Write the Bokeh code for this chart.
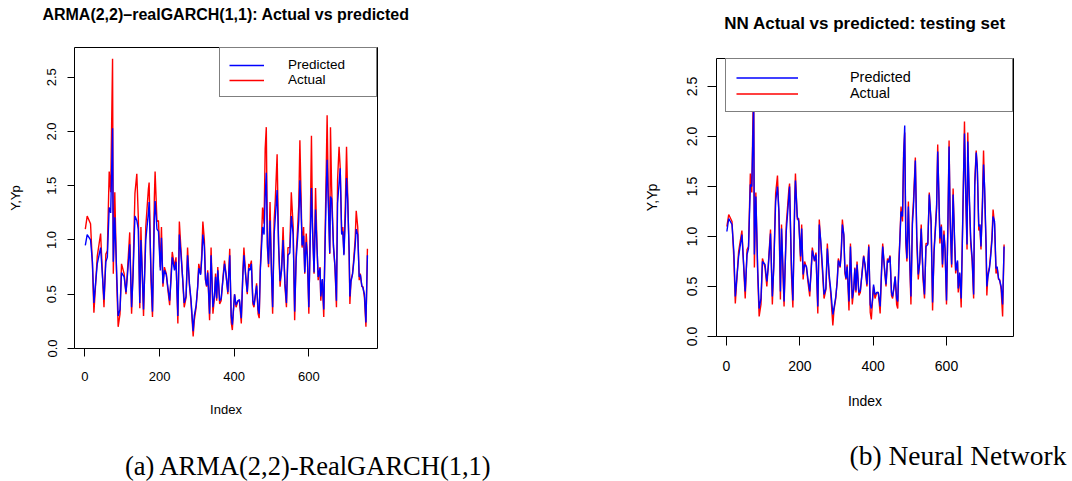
from bokeh.plotting import figure
from bokeh.models import Label, Legend, LegendItem, FixedTicker, PrintfTickFormatter, Range1d
from bokeh.layouts import row, column
from bokeh.embed import file_html
from bokeh.resources import INLINE

# ---------------- data ----------------
index = [1, 6, 15, 20, 24, 33, 42, 51, 56, 60,
         65, 69, 74, 76, 80, 85, 89, 94, 98, 105,
         110, 114, 120, 125, 129, 134, 139, 143, 147, 150,
         154, 157, 163, 170, 172, 177, 181, 186, 188, 193,
         197, 202, 205, 209, 213, 218, 222, 227, 231, 234,
         240, 244, 249, 253, 257, 262, 266, 271, 275, 280,
         284, 290, 293, 298, 302, 305, 310, 313, 316, 320,
         323, 326, 329, 334, 338, 343, 347, 350, 353, 356,
         361, 365, 370, 374, 378, 383, 388, 392, 395, 398,
         401, 405, 410, 414, 419, 423, 426, 431, 435, 439,
         442, 446, 450, 453, 457, 460, 464, 467, 470, 473,
         476, 480, 483, 486, 489, 492, 496, 500, 503, 507,
         510, 515, 519, 523, 527, 531, 536, 540, 544, 549,
         553, 558, 562, 566, 570, 573, 576, 579, 582, 586,
         589, 593, 596, 600, 604, 607, 610, 614, 618, 622,
         625, 630, 632, 636, 640, 643, 647, 649, 652, 656,
         658, 661, 666, 670, 674, 677, 681, 684, 688, 691,
         694, 698, 701, 704, 708, 710, 713, 717, 720, 724,
         727, 731, 735, 738, 742, 745, 749, 753, 757]

actual = [1.10, 1.22, 1.15, 0.78, 0.33, 0.85, 1.06, 0.38, 0.87, 0.90,
          1.63, 1.44, 2.67, 0.69, 1.44, 0.63, 0.20, 0.32, 0.78, 0.69,
          0.50, 0.72, 1.07, 0.32, 0.72, 1.43, 1.61, 1.21, 0.37, 1.12,
          0.63, 0.30, 1.12, 1.47, 1.53, 0.63, 0.29, 1.39, 1.63, 1.17,
          1.18, 0.75, 1.12, 0.57, 0.75, 0.69, 0.55, 0.40, 0.69, 0.89,
          0.75, 0.84, 0.23, 1.17, 0.93, 0.63, 0.38, 0.47, 0.93, 0.58,
          0.44, 0.11, 0.26, 0.38, 0.57, 0.78, 0.69, 0.87, 1.17, 1.00,
          0.63, 0.57, 0.72, 0.26, 0.93, 0.32, 0.47, 0.69, 0.44, 0.75,
          0.41, 0.44, 0.66, 0.81, 0.69, 0.50, 0.92, 0.24, 0.17, 0.35,
          0.50, 0.38, 0.44, 0.44, 0.23, 0.69, 0.93, 0.66, 0.50, 0.78,
          0.75, 0.81, 0.41, 0.38, 0.50, 0.60, 0.32, 0.28, 0.75, 1.00,
          1.30, 1.15, 1.84, 2.04, 0.93, 0.75, 1.35, 0.69, 0.32, 1.18,
          1.36, 1.79, 0.93, 0.57, 0.75, 1.12, 0.57, 0.38, 0.93, 0.93,
          1.44, 1.12, 0.26, 0.87, 1.12, 1.32, 1.92, 1.43, 0.93, 1.12,
          0.69, 1.06, 0.87, 0.32, 1.18, 1.96, 1.12, 0.69, 1.48, 0.93,
          0.63, 0.75, 0.44, 0.63, 0.29, 0.93, 1.73, 2.15, 1.46, 0.87,
          2.04, 1.49, 0.93, 0.75, 0.38, 1.55, 1.86, 1.67, 1.06, 1.12,
          0.87, 1.36, 1.86, 1.43, 0.87, 0.41, 0.63, 0.69, 0.81, 1.00,
          1.27, 1.12, 0.63, 0.69, 0.57, 0.57, 0.47, 0.20, 0.92]

pred_arma = [0.95, 1.05, 1.00, 0.80, 0.42, 0.78, 0.93, 0.45, 0.80, 0.84,
             1.30, 1.25, 2.03, 0.80, 1.21, 0.70, 0.30, 0.36, 0.70, 0.66,
             0.52, 0.68, 0.96, 0.38, 0.68, 1.22, 1.18, 1.10, 0.42, 1.00,
             0.66, 0.36, 1.00, 1.25, 1.35, 0.70, 0.34, 1.20, 1.36, 1.10,
             1.08, 0.72, 1.02, 0.60, 0.72, 0.68, 0.57, 0.44, 0.66, 0.84,
             0.72, 0.80, 0.30, 1.05, 0.88, 0.64, 0.42, 0.48, 0.86, 0.60,
             0.46, 0.16, 0.30, 0.40, 0.56, 0.74, 0.68, 0.82, 1.05, 0.94,
             0.64, 0.58, 0.70, 0.32, 0.86, 0.38, 0.48, 0.66, 0.46, 0.72,
             0.44, 0.46, 0.64, 0.78, 0.68, 0.52, 0.86, 0.30, 0.22, 0.36,
             0.50, 0.40, 0.44, 0.45, 0.28, 0.66, 0.86, 0.66, 0.52, 0.74,
             0.72, 0.78, 0.44, 0.40, 0.50, 0.58, 0.36, 0.32, 0.72, 0.92,
             1.12, 1.05, 1.40, 1.62, 0.96, 0.78, 1.18, 0.70, 0.38, 1.05,
             1.20, 1.46, 0.96, 0.62, 0.72, 1.00, 0.60, 0.42, 0.86, 0.88,
             1.22, 1.05, 0.34, 0.82, 1.02, 1.18, 1.55, 1.30, 0.95, 1.04,
             0.70, 0.98, 0.85, 0.38, 1.05, 1.48, 1.08, 0.70, 1.28, 0.92,
             0.66, 0.74, 0.48, 0.64, 0.36, 0.86, 1.50, 1.74, 1.36, 0.88,
             1.40, 1.38, 0.95, 0.76, 0.44, 1.34, 1.52, 1.66, 1.05, 1.08,
             0.86, 1.22, 1.57, 1.38, 0.90, 0.48, 0.62, 0.68, 0.78, 0.94,
             1.10, 1.05, 0.66, 0.68, 0.58, 0.56, 0.50, 0.24, 0.86]

pred_nn = [1.05, 1.18, 1.12, 0.85, 0.40, 0.80, 1.02, 0.45, 0.82, 0.88,
           1.52, 1.50, 2.35, 0.82, 1.40, 0.68, 0.28, 0.38, 0.75, 0.72,
           0.55, 0.70, 1.03, 0.40, 0.70, 1.35, 1.50, 1.25, 0.45, 1.08,
           0.68, 0.35, 1.05, 1.40, 1.50, 0.72, 0.36, 1.30, 1.56, 1.20,
           1.15, 0.80, 1.08, 0.62, 0.72, 0.70, 0.58, 0.45, 0.66, 0.86,
           0.76, 0.82, 0.30, 1.12, 0.96, 0.68, 0.42, 0.48, 0.88, 0.62,
           0.48, 0.22, 0.28, 0.40, 0.55, 0.76, 0.70, 0.84, 1.12, 1.02,
           0.66, 0.58, 0.70, 0.35, 0.90, 0.38, 0.48, 0.68, 0.46, 0.72,
           0.44, 0.46, 0.64, 0.80, 0.72, 0.52, 0.90, 0.32, 0.28, 0.36,
           0.52, 0.42, 0.44, 0.44, 0.30, 0.66, 0.90, 0.68, 0.52, 0.76,
           0.74, 0.80, 0.44, 0.40, 0.50, 0.60, 0.38, 0.35, 0.70, 0.98,
           1.25, 1.20, 1.78, 2.11, 1.00, 0.78, 1.30, 0.74, 0.40, 1.12,
           1.30, 1.76, 1.00, 0.62, 0.74, 1.08, 0.62, 0.42, 0.90, 0.92,
           1.42, 1.16, 0.34, 0.84, 1.08, 1.28, 1.85, 1.45, 0.98, 1.10,
           0.72, 1.02, 0.88, 0.36, 1.15, 1.90, 1.18, 0.72, 1.42, 0.98,
           0.66, 0.76, 0.48, 0.64, 0.38, 0.90, 1.70, 2.03, 1.52, 0.92,
           1.95, 1.55, 0.98, 0.78, 0.42, 1.50, 1.84, 1.70, 1.10, 1.12,
           0.90, 1.30, 1.72, 1.48, 0.92, 0.50, 0.60, 0.68, 0.78, 0.96,
           1.20, 1.15, 0.68, 0.70, 0.58, 0.56, 0.50, 0.32, 0.90]

x_ticks = [0, 200, 400, 600]
y_ticks = [0.0, 0.5, 1.0, 1.5, 2.0, 2.5]

title_a = "ARMA(2,2)\u2013realGARCH(1,1): Actual vs predicted"
title_b = "NN Actual vs predicted: testing set"
caption_a = "(a) ARMA(2,2)-RealGARCH(1,1)"
caption_b = "(b) Neural Network"
legend_labels = ["Predicted", "Actual"]
x_label = "Index"
y_label = "Y,Yp"

SANS = "Liberation Sans"
SERIF = "Liberation Serif"


def text_strip(width, height, text, x, y, font, size, style):
    """A plain strip (no axes, no frame) that carries one line of text."""
    s = figure(output_backend="svg", toolbar_location=None,
               width=width, height=height, min_border=0,
               x_axis_type=None, y_axis_type=None,
               x_range=Range1d(0, width), y_range=Range1d(0, height),
               frame_align=False,
               background_fill_color="white", border_fill_color="white")
    s.grid.visible = False
    s.outline_line_color = None
    s.add_layout(Label(x=x, y=y, x_units="screen", y_units="screen", text=text,
                       text_align="center", text_baseline="middle",
                       text_font=font, text_font_style=style,
                       text_font_size=size, text_color="black"))
    return s


def make_plot(pred, g):
    p = figure(output_backend="svg", toolbar_location=None,
               frame_width=g["fw"], frame_height=g["fh"],
               min_border_left=g["bl"], min_border_right=g["br"],
               min_border_top=g["bt"], min_border_bottom=g["bb"],
               x_range=Range1d(*g["xr"]), y_range=Range1d(*g["yr"]),
               frame_align=False,
               background_fill_color="white", border_fill_color="white")
    p.grid.visible = False
    p.outline_line_color = "black"
    p.outline_line_width = 1
    p.outline_line_alpha = 1

    red = p.line(index, actual, line_color="#FF0000", line_width=1.4)
    blue = p.line(index, pred, line_color="#0000FF", line_width=1.4)

    p.xaxis.ticker = FixedTicker(ticks=x_ticks, minor_ticks=[])
    p.yaxis.ticker = FixedTicker(ticks=y_ticks, minor_ticks=[])
    p.xaxis.formatter = PrintfTickFormatter(format="%d")
    p.yaxis.formatter = PrintfTickFormatter(format="%.1f")
    p.xaxis.axis_label = x_label
    p.yaxis.axis_label = y_label
    p.yaxis.major_label_orientation = "vertical"
    for ax in p.axis:
        ax.axis_line_color = None
        ax.major_tick_line_color = "black"
        ax.major_tick_in = 0
        ax.minor_tick_line_color = None
        ax.major_label_text_font = SANS
        ax.major_label_text_font_size = g["tick_fs"]
        ax.major_label_text_color = "black"
        ax.axis_label_text_font = SANS
        ax.axis_label_text_font_size = g["tick_fs"]
        ax.axis_label_text_font_style = "normal"
        ax.axis_label_text_color = "black"
    p.xaxis.major_tick_out = g["xtick"]
    p.yaxis.major_tick_out = g["ytick"]
    p.xaxis.major_label_standoff = g["xls"]
    p.yaxis.major_label_standoff = g["yls"]
    p.xaxis.axis_label_standoff = g["xas"]
    p.yaxis.axis_label_standoff = g["yas"]

    legend = Legend(items=[LegendItem(label=legend_labels[0], renderers=[blue]),
                           LegendItem(label=legend_labels[1], renderers=[red])],
                    location="top_right", margin=0, padding=g["lpad"],
                    spacing=0, glyph_width=g["gw"],
                    glyph_height=g["lh"], label_height=g["lh"],
                    label_width=g["lw"], label_standoff=g["lstand"],
                    border_line_color="black", border_line_width=1,
                    background_fill_color="white", background_fill_alpha=1,
                    label_text_font=SANS, label_text_font_size=g["leg_fs"],
                    label_text_color="black")
    p.add_layout(legend)
    return p


# left panel: width 540 = 74 + 303 + 163 ; heights 32 + (15+301+87) + 46 = 481
geom_a = dict(fw=303, fh=301, bl=74, br=163, bt=15, bb=87,
              xr=(-28.0, 784.0), yr=(0.0, 2.774),
              tick_fs="13px", xtick=8, ytick=7, xls=15, yls=11, xas=18, yas=22,
              lpad=9, gw=35, lh=14, lw=79, lstand=24, leg_fs="13.5px")
# right panel: width 532 = 176 + 297 + 59 ; heights 40 + (18+278+99) + 46 = 481
geom_b = dict(fw=297, fh=278, bl=176, br=59, bt=18, bb=99,
              xr=(-27.3, 782.7), yr=(0.0, 2.78),
              tick_fs="14px", xtick=9, ytick=9, xls=15, yls=11, xas=19, yas=24,
              lpad=10, gw=62, lh=15, lw=152, lstand=52, leg_fs="14.4px")

pa = make_plot(pred_arma, geom_a)
pb = make_plot(pred_nn, geom_b)

ta = text_strip(540, 32, title_a, 225.5, 18, SANS, "16px", "bold")
ca = text_strip(540, 46, caption_a, 308, 16, SERIF, "26.5px", "normal")
tb = text_strip(532, 40, title_b, 324.5, 16.7, SANS, "17px", "bold")
cb = text_strip(532, 46, caption_b, 417.5, 26.3, SERIF, "27.5px", "normal")

left = column(ta, pa, ca, spacing=0)
right = column(tb, pb, cb, spacing=0)
layout = row(left, right, spacing=0)
open("out.html", "w").write(file_html(layout, INLINE))
